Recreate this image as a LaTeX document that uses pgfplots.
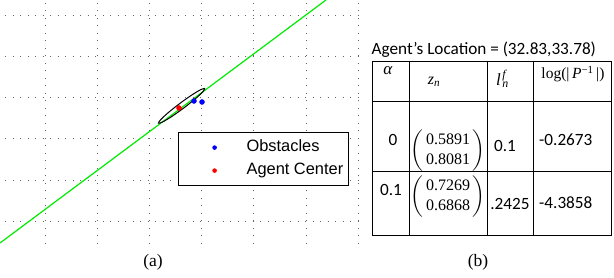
\documentclass[border=0pt]{standalone}
\usepackage{amsmath}
\usepackage{fontspec}
\setmainfont{Liberation Serif}
\newfontfamily\arialfont{Liberation Sans}
\newfontfamily\calibrifont{Carlito}
\usepackage{pgfplots}
\pgfplotsset{compat=1.18}
\definecolor{mgreen}{RGB}{0,235,0}
\pgfplotsset{mylegimg/.style={legend image code/.code={\path[draw=none,fill=none] (0pt,0pt) -- (61pt,0pt); \draw[mark repeat=2,mark phase=2,##1,draw=none] plot coordinates {(0pt,0pt) (31pt,0pt) (61pt,0pt)};}}}
\begin{document}
\begin{tikzpicture}[x=1pt,y=1pt]
\useasboundingbox (0,0) rectangle (614,278);
\begin{axis}[
  at={(5pt,34pt)}, anchor=south west,
  x=1pt, y=1pt,
  xmin=5, xmax=362, ymin=34, ymax=278,
  clip=false,
  axis line style={draw=none},
  tick style={draw=none},
  xtick={45,97.2,149.4,201.6,253.8,306,358.2},
  ytick={56.5,97.8,139.1,180.4,221.7,263},
  xticklabels={}, yticklabels={},
  grid=major,
  major grid style={black!60, line width=0.9pt, dash pattern=on 1pt off 6.5pt},
  legend style={at={(axis cs:178,146)}, anchor=north west, draw=black,
    line width=1.2pt, fill=white,
    font=\arialfont\fontsize{16.4}{19}\selectfont,
    inner xsep=5pt, inner ysep=7pt, row sep=7pt, column sep=2pt,
    nodes={inner sep=0pt, text height=12pt, text depth=4pt}},
  legend cell align=left,
  legend image post style={mark size=2pt},
]
\addplot[forget plot, mgreen, line width=1.2pt] coordinates {(0,35) (326,278)};
\addplot[forget plot, black, line width=1pt, smooth] coordinates {
 (204.92,189.57) (200.91,188.44) (191.75,182.97) (179.90,174.60)
 (168.53,165.59) (160.69,158.36) (158.48,154.83) (162.49,155.96)
 (171.65,161.43) (183.50,169.80) (194.87,178.81) (202.71,186.04)
 (204.92,189.57)};
\addplot[only marks, mark=*, mark size=2.5pt, blue, mark options={fill=blue, draw=blue, line width=0.4pt}, mylegimg] coordinates {(194,177) (202,176)};
\addlegendentry{Obstacles}
\addplot[only marks, mark=*, mark size=2.5pt, red, mark options={fill=red, draw=red, line width=0.4pt}, mylegimg] coordinates {(179,170)};
\addlegendentry{Agent Center}
\end{axis}
% table
\node[anchor=base west, inner sep=0pt, font=\calibrifont\fontsize{17.2}{20}\selectfont] at (371.5,223.5) {Agent’s Location = (32.83,33.78)};
\begin{scope}[line width=0.9pt]
\draw (372,217) rectangle (611,43);
\draw (409,217) -- (409,43);
\draw (487,217) -- (487,43);
\draw (533,217) -- (533,43);
\draw (372,177) -- (611,177);
\draw (372,107) -- (611,107);
\end{scope}
\begin{scope}[every node/.style={inner sep=0pt}]
\node[font=\fontsize{17}{20}\selectfont] at (388,207) {\textit{α}};
\node[font=\fontsize{16}{19}\selectfont] at (434,196) {\textit{z}\textsubscript{\textit{n}}};
\node[font=\fontsize{17}{20}\selectfont] at (505,199) {\textit{l}\kern1.5pt\rlap{\textsuperscript{\textit{f}}}\textsubscript{\textit{n}}\hphantom{\textsuperscript{\textit{f}}}};
\node[font=\fontsize{15.5}{19}\selectfont] at (573,204) {log(|\,\textit{P}\textsuperscript{−1}\,|)};
\node[font=\calibrifont\fontsize{17.2}{20}\selectfont] at (393,138) {0};
\node[font=\fontsize{16}{19}\selectfont] at (448,127) {$\left(\begin{tabular}{@{\,}c@{\,}}0.5891\\[1pt]0.8081\end{tabular}\right)$};
\node[font=\calibrifont\fontsize{17.2}{20}\selectfont] at (505,132) {0.1};
\node[anchor=west, font=\calibrifont\fontsize{17.2}{20}\selectfont] at (539,138) {-0.2673};
\node[font=\calibrifont\fontsize{17.2}{20}\selectfont] at (391,88) {0.1};
\node[font=\fontsize{16}{19}\selectfont] at (448,81) {$\left(\begin{tabular}{@{\,}c@{\,}}0.7269\\[1pt]0.6868\end{tabular}\right)$};
\node[font=\calibrifont\fontsize{17.2}{20}\selectfont] at (510,74) {.2425};
\node[anchor=west, font=\calibrifont\fontsize{17.2}{20}\selectfont] at (539,75) {-4.3858};
\end{scope}
\node[font=\fontsize{17.5}{21}\selectfont, inner sep=0pt] at (153,16) {(a)};
\node[font=\fontsize{17.5}{21}\selectfont, inner sep=0pt] at (478,16) {(b)};
\end{tikzpicture}
\end{document}
